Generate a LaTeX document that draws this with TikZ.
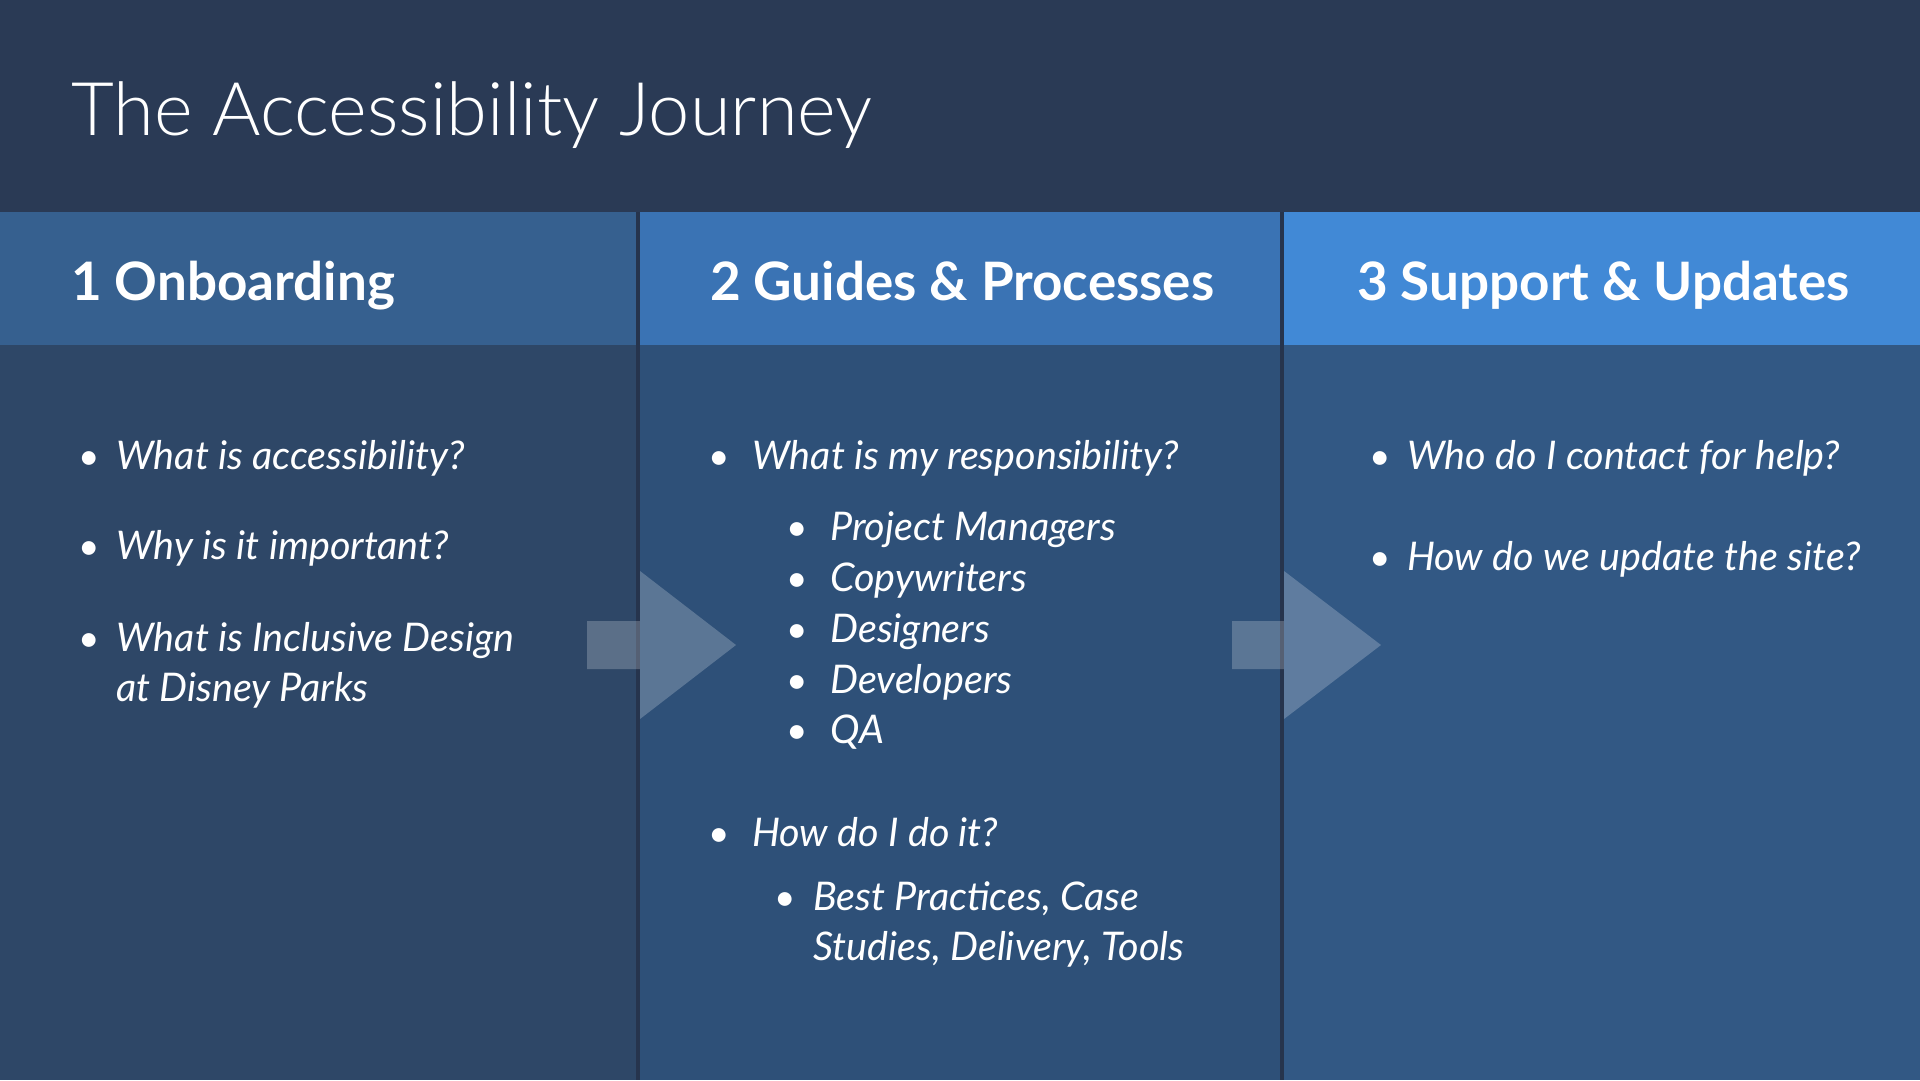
\documentclass[tikz,border=0pt]{standalone}
\usepackage{fontspec}
\setmainfont{Lato}
\newfontfamily\lightfont{Lato Light}
\definecolor{topbg}{HTML}{2A3A55}
\definecolor{hdA}{HTML}{36608F}
\definecolor{hdB}{HTML}{3A73B4}
\definecolor{hdC}{HTML}{4189D6}
\definecolor{bdA}{HTML}{2E4767}
\definecolor{bdB}{HTML}{2E5078}
\definecolor{bdC}{HTML}{325884}
\definecolor{divc}{HTML}{26344D}
\tikzset{
  txt/.style={inner sep=0pt, anchor=base west, text=white},
  titletxt/.style={txt, font=\lightfont\fontsize{74}{90}\selectfont},
  headtxt/.style={txt, font=\fontsize{53}{64}\selectfont\bfseries},
  bodytxt/.style={txt, font=\fontsize{39.5}{50}\selectfont\itshape},
  bul/.style={txt, font=\fontsize{37}{50}\selectfont},
  arrowshape/.style={fill=white, fill opacity=0.22},
}
\begin{document}
\begin{tikzpicture}[x=1pt,y=-1pt]
\useasboundingbox (0,0) rectangle (1920,1080);
% backgrounds
\fill[topbg] (0,0) rectangle (1920,212);
\fill[bdA] (0,212) rectangle (640,1080);
\fill[bdB] (640,212) rectangle (1284,1080);
\fill[bdC] (1284,212) rectangle (1920,1080);
\fill[hdA] (0,212) rectangle (636,345);
\fill[hdB] (640,212) rectangle (1280,345);
\fill[hdC] (1284,212) rectangle (1920,345);
\fill[divc] (636,212) rectangle (640,1080);
\fill[divc] (1280,212) rectangle (1284,1080);
% arrows
\fill[arrowshape] (587,621) -- (640,621) -- (640,571) -- (736,645) -- (640,719) -- (640,669) -- (587,669) -- cycle;
\fill[arrowshape] (1232,621) -- (1284,621) -- (1284,571) -- (1381,645) -- (1284,719) -- (1284,669) -- (1232,669) -- cycle;
% title
\node[titletxt] (title) at (71,135) {The Accessibility Journey};
% headers
\node[headtxt] (h1) at (71,300) {1 Onboarding};
\node[headtxt] (h2) at (710,300) {2 Guides \& Processes};
\node[headtxt] (h3) at (1357,300) {3 Support \& Updates};
% column 1
\node[bul] (b11) at (78,469) {•};
\node[bodytxt] (t11) at (116,469) {What is accessibility?};
\node[bul] (b12) at (78,559) {•};
\node[bodytxt] (t12) at (116,559) {Why is it important?};
\node[bul] (b13) at (78,651) {•};
\node[bodytxt] (t13) at (116,651) {What is Inclusive Design};
\node[bodytxt] (t13b) at (116,701) {at Disney Parks};
% column 2
\node[bul] (b21) at (708,469) {•};
\node[bodytxt] (t21) at (752,469) {What is my responsibility?};
\node[bul] (s1) at (786,540) {•};
\node[bodytxt] (u1) at (830,540) {Project Managers};
\node[bul] (s2) at (786,591) {•};
\node[bodytxt] (u2) at (830,591) {Copywriters};
\node[bul] (s3) at (786,642) {•};
\node[bodytxt] (u3) at (830,642) {Designers};
\node[bul] (s4) at (786,693) {•};
\node[bodytxt] (u4) at (830,693) {Developers};
\node[bul] (s5) at (786,743) {•};
\node[bodytxt] (u5) at (830,743) {QA};
\node[bul] (b22) at (708,846) {•};
\node[bodytxt] (t22) at (752,846) {How do I do it?};
\node[bul] (s6) at (774,910) {•};
\node[bodytxt] (u6) at (813,910) {Best Practices, Case};
\node[bodytxt] (u6b) at (813,960) {Studies, Delivery, Tools};
% column 3
\node[bul] (b31) at (1369,469) {•};
\node[bodytxt] (t31) at (1407,469) {Who do I contact for help?};
\node[bul] (b32) at (1369,570) {•};
\node[bodytxt] (t32) at (1407,570) {How do we update the site?};
\end{tikzpicture}
\end{document}
